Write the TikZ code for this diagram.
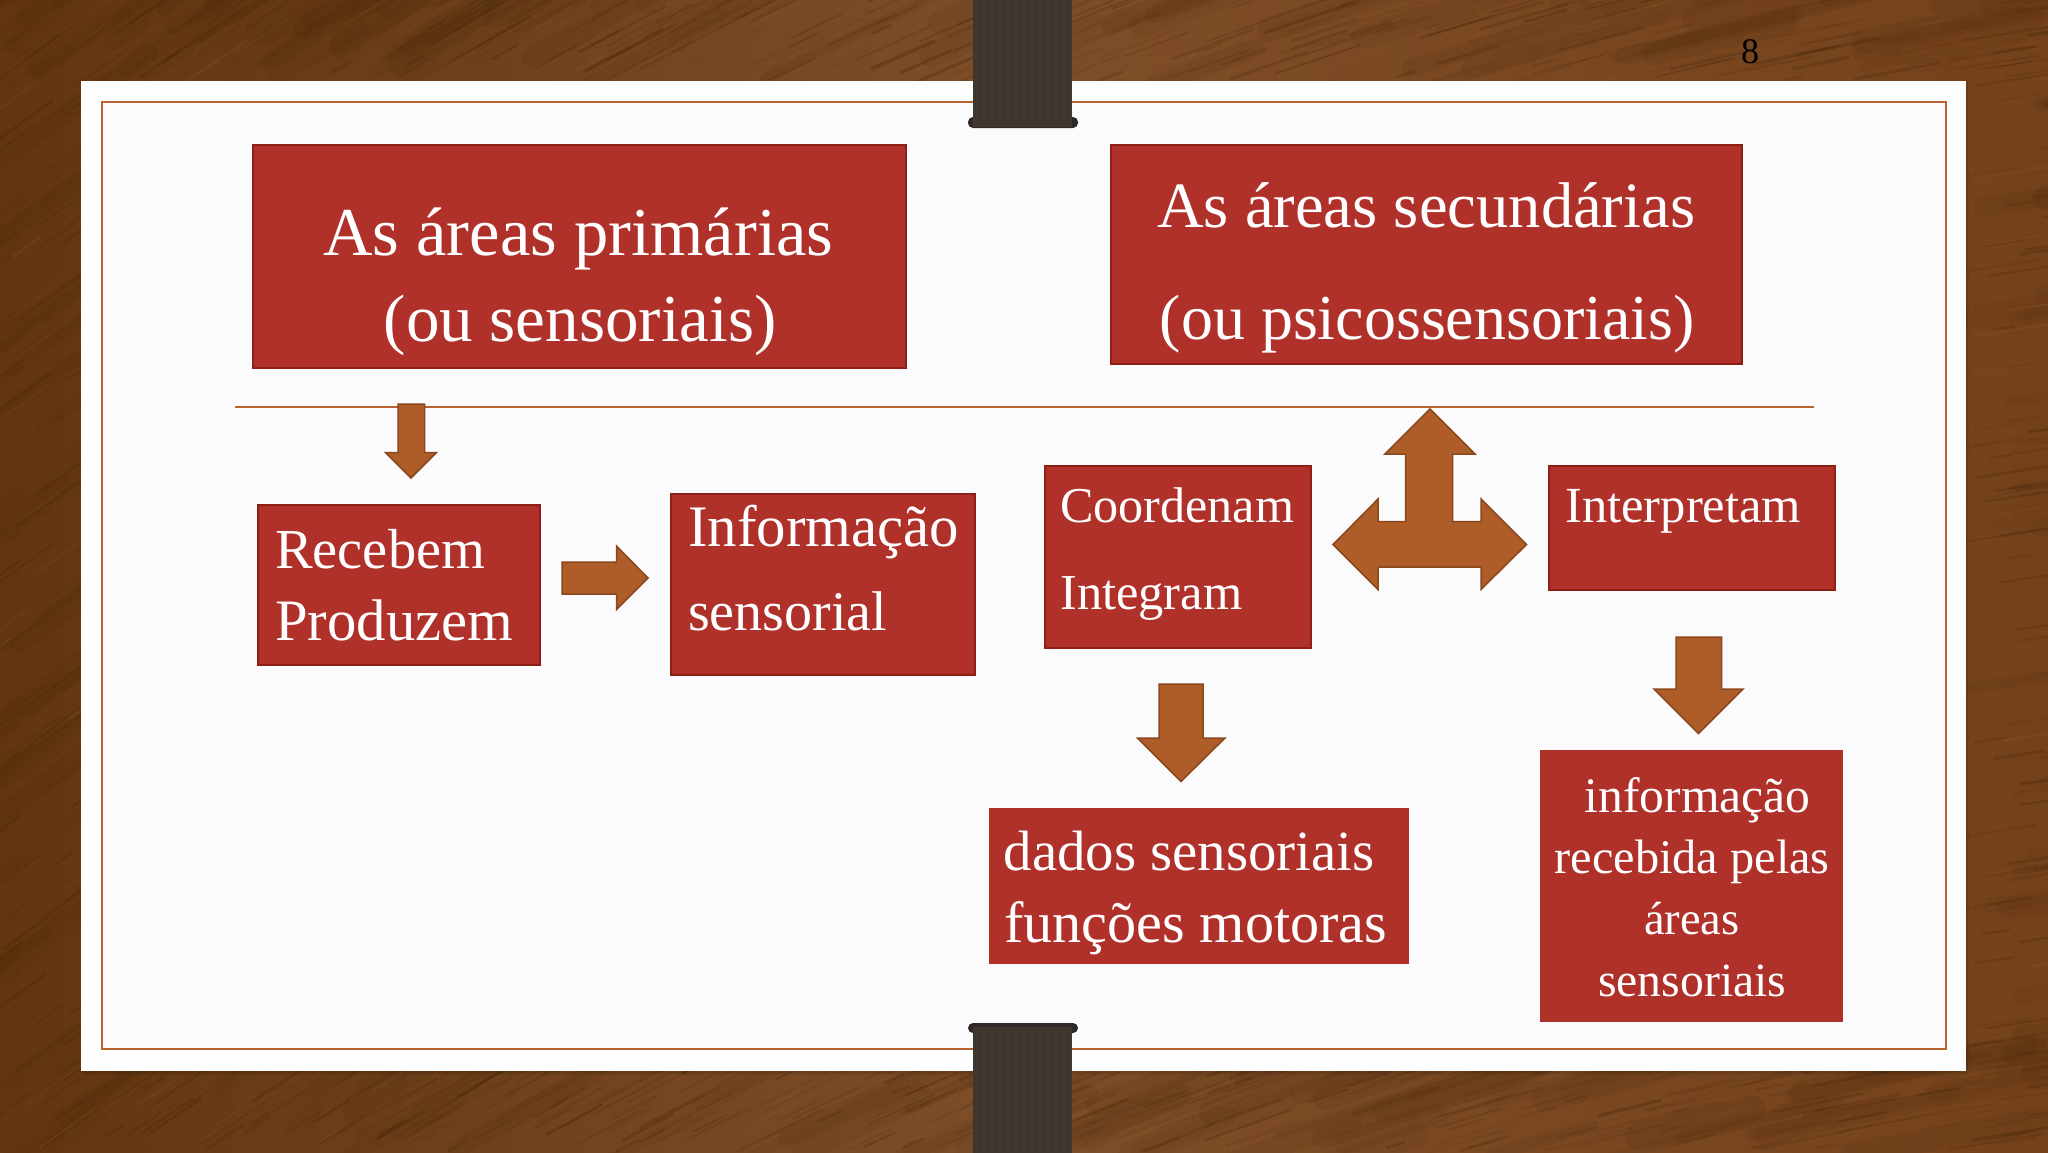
\documentclass[tikz,border=0pt]{standalone}
\usepackage{fontspec}
\setmainfont{Liberation Serif}
\definecolor{woodLeft}{HTML}{63360F}
\definecolor{woodMid}{HTML}{7E4E28}
\definecolor{woodRight}{HTML}{74421A}
\definecolor{woodDark}{HTML}{47260A}
\definecolor{woodLight}{HTML}{8F6136}
\definecolor{paperOuter}{HTML}{FEFEFE}
\definecolor{paperInner}{HTML}{FBFBFD}
\definecolor{ruleCol}{HTML}{B9622F}
\definecolor{boxFill}{HTML}{B0302A}
\definecolor{boxEdge}{HTML}{8E1F17}
\definecolor{arrowFill}{HTML}{AE5D28}
\definecolor{arrowEdge}{HTML}{8A481C}
\definecolor{bandFill}{HTML}{3F3630}
\definecolor{bandDark}{HTML}{2E2926}
\newlength{\fitwd}
\newcommand{\fitline}[2]{%
  \settowidth{\fitwd}{\fontsize{100pt}{100pt}\selectfont #2}%
  \pgfmathsetmacro{\fitsize}{#1/\fitwd*100}%
  \fontsize{\fitsize pt}{\fitsize pt}\selectfont #2}
\newcommand{\grain}[5]{%
  \foreach \i in {1,...,#1}{%
    \pgfmathsetmacro{\gx}{#2+rnd*(#3-(#2))}%
    \pgfmathsetmacro{\gy}{#4+rnd*(#5-(#4))}%
    \pgfmathsetmacro{\gl}{18+rnd*80}%
    \pgfmathsetmacro{\ga}{36-28*(\gx/2048)}%
    \pgfmathsetmacro{\gw}{0.8+rnd*2.4}%
    \pgfmathsetmacro{\gop}{0.08+rnd*0.24}%
    \pgfmathsetmacro{\gpick}{rnd}%
    \ifdim\gpick pt<0.8pt
      \draw[draw=woodDark,line width=\gw pt,opacity=\gop,line cap=round] (\gx,\gy) -- ++(-\ga:\gl);
    \else
      \draw[draw=woodLight,line width=\gw pt,opacity=\gop*0.6,line cap=round] (\gx,\gy) -- ++(-\ga:\gl);
    \fi
  }}
\newcommand{\blotch}[5]{%
  \foreach \i in {1,...,#1}{%
    \pgfmathsetmacro{\gx}{#2+rnd*(#3-(#2))}%
    \pgfmathsetmacro{\gy}{#4+rnd*(#5-(#4))}%
    \pgfmathsetmacro{\gl}{90+rnd*220}%
    \pgfmathsetmacro{\ga}{36-28*(\gx/2048)}%
    \pgfmathsetmacro{\gw}{8+rnd*18}%
    \pgfmathsetmacro{\gop}{0.05+rnd*0.09}%
    \draw[draw=woodDark,line width=\gw pt,opacity=\gop,line cap=round] (\gx,\gy) -- ++(-\ga:\gl);
  }}
\tikzset{
  boxnode/.style={draw=boxEdge,line width=2pt,fill=boxFill,inner sep=0pt,anchor=north west},
  plainbox/.style={fill=boxFill,inner sep=0pt,anchor=north west},
  txt/.style={text=white,inner sep=0pt,anchor=base west},
  barrow/.style={draw=arrowEdge,line width=1.5pt,fill=arrowFill,line join=miter},
  band/.style={fill=bandFill},
  bandcap/.style={fill=bandDark,rounded corners=5pt},
  framerule/.style={draw=ruleCol,line width=2pt}
}
\begin{document}
\begin{tikzpicture}[x=1pt,y=-1pt]
\useasboundingbox (0,0) rectangle (2048,1152);
\clip (0,0) rectangle (2048,1152);
% wood
\shade[left color=woodLeft,right color=woodRight,middle color=woodMid] (0,0) rectangle (2048,1152);
\pgfmathsetseed{17}
\blotch{70}{-100}{2048}{-20}{90}
\blotch{60}{-100}{2048}{1065}{1170}
\blotch{30}{-150}{70}{90}{1075}
\blotch{25}{1960}{2048}{90}{1075}
\blotch{26}{-60}{420}{0}{75}
\grain{380}{-60}{2048}{-20}{85}
\grain{380}{-60}{2048}{1062}{1152}
\grain{100}{-60}{84}{80}{1075}
\grain{100}{1960}{2048}{80}{1075}
% paper shadow
\fill[black,opacity=.06] (83,83) rectangle (1969,1075);
\fill[black,opacity=.08] (82,82) rectangle (1967.5,1073);
% paper
\fill[paperOuter] (81,81) rectangle (1966,1071);
\fill[paperInner] (102,102) rectangle (1946,1049);
\draw[framerule] (102,102) rectangle (1946,1049);
% clips
\fill[bandcap] (968,117) rectangle (1078,128);
\fill[band] (973,-2) rectangle (1072,127);
\fill[bandcap] (968,1023) rectangle (1078,1033);
\fill[band] (973,1027) rectangle (1072,1154);
\foreach \sx in {980,988,...,1068}{
  \draw[bandDark,line width=.7pt,opacity=.3] (\sx,0) -- (\sx,125);
  \draw[bandDark,line width=.7pt,opacity=.3] (\sx,1030) -- (\sx,1152);
}
% rule
\draw[framerule] (235,406.5) -- (1814,406.5);
% boxes
\node[boxnode,minimum width=653pt,minimum height=223pt] (primarias) at (252,144) {};
\node[boxnode,minimum width=631pt,minimum height=219pt] (secundarias) at (1110,144) {};
\node[boxnode,minimum width=282pt,minimum height=160pt] (recebem) at (257,504) {};
\node[boxnode,minimum width=304pt,minimum height=181pt] (informacao) at (670,493) {};
\node[boxnode,minimum width=266pt,minimum height=182pt] (coordenam) at (1044,465) {};
\node[boxnode,minimum width=286pt,minimum height=124pt] (interpretam) at (1548,465) {};
\node[plainbox,minimum width=420pt,minimum height=156pt] (dados) at (988.5,808) {};
\node[plainbox,minimum width=303pt,minimum height=272pt] (recebida) at (1539.5,750) {};
% block arrows
\draw[barrow] (398,404) -- (424.5,404) -- (424.5,452.5) -- (436.5,452.5) -- (411,478) -- (385.5,452.5) -- (398,452.5) -- cycle;
\draw[barrow] (562,562) -- (616.5,562) -- (616.5,546) -- (648,578) -- (616.5,609.5) -- (616.5,594) -- (562,594) -- cycle;
\draw[barrow] (1430,409) -- (1475,454) -- (1452.5,454) -- (1452.5,521.5) -- (1481,521.5) -- (1481,499) -- (1526.5,544.5) -- (1481,589.5) -- (1481,567) -- (1378,567) -- (1378,589.5) -- (1333,544.5) -- (1378,499) -- (1378,521.5) -- (1405.5,521.5) -- (1405.5,454) -- (1385,454) -- cycle;
\draw[barrow] (1159,684) -- (1203,684) -- (1203,738) -- (1225,738) -- (1181,781.5) -- (1137.5,738) -- (1159,738) -- cycle;
\draw[barrow] (1676,637) -- (1721.5,637) -- (1721.5,689) -- (1743,689) -- (1698.5,733.5) -- (1654,689) -- (1676,689) -- cycle;
% texts
\node[txt] (t1a) at (323,255) {\fitline{510}{As áreas primárias}};
\node[txt] (t1b) at (383.5,341.5) {\fitline{393}{(ou sensoriais)}};
\node[txt] (t2a) at (1157,227.5) {\fitline{538}{As áreas secundárias}};
\node[txt] (t2b) at (1159.5,339) {\fitline{535}{(ou psicossensoriais)}};
\node[txt] (t3a) at (275,568.5) {\fitline{210}{Recebem}};
\node[txt] (t3b) at (275,640) {\fitline{238}{Produzem}};
\node[txt] (t4a) at (688,546) {\fitline{271}{Informação}};
\node[txt] (t4b) at (688,630) {\fitline{199}{sensorial}};
\node[txt] (t5a) at (1060,522) {\fitline{234}{Coordenam}};
\node[txt] (t5b) at (1060,609) {\fitline{182}{Integram}};
\node[txt] (t6) at (1565,522) {\fitline{236}{Interpretam}};
\node[txt] (t7a) at (1003.5,870) {\fitline{371}{dados sensoriais}};
\node[txt] (t7b) at (1004,942) {\fitline{383}{funções motoras}};
\node[txt] (t8a) at (1584.5,812) {\fitline{226}{informação}};
\node[txt] (t8b) at (1554.5,873) {\fitline{275}{recebida pelas}};
\node[txt] (t8c) at (1644,934) {\fitline{95.5}{áreas}};
\node[txt] (t8d) at (1598,996) {\fitline{188}{sensoriais}};
\node[txt,text=black,font=\fontsize{36pt}{36pt}\selectfont] (pagenum) at (1741,63) {8};
\end{tikzpicture}
\end{document}
